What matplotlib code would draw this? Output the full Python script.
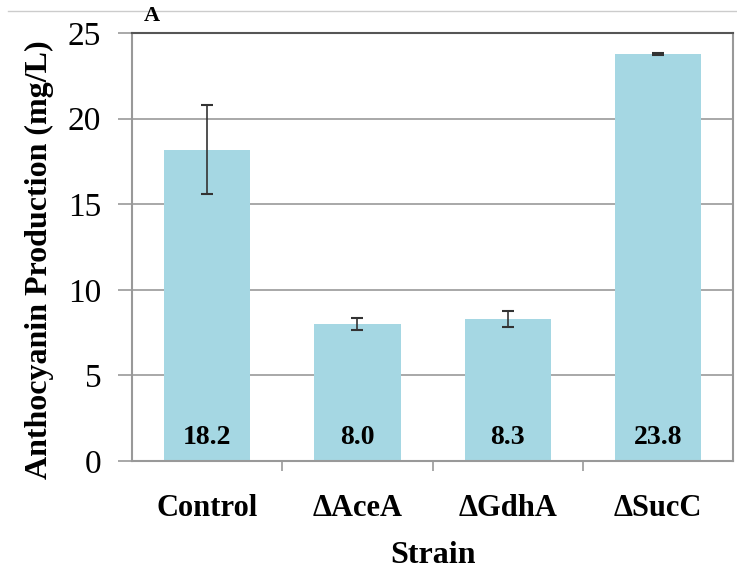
import matplotlib.pyplot as plt

strains = ["Control", "\u0394AceA", "\u0394GdhA", "\u0394SucC"]
production = [18.2, 8.0, 8.3, 23.8]
errors = [2.6, 0.35, 0.45, 0.05]
value_labels = ["18.2", "8.0", "8.3", "23.8"]

plt.rcParams['font.family'] = ['Liberation Serif', 'DejaVu Serif']

fig = plt.figure(figsize=(7.37, 5.82), dpi=100)
ax = fig.add_axes([0.179, 0.208, 0.816, 0.735])

x = range(len(strains))
ax.bar(x, production, width=0.575, color='#a5d7e3', zorder=2)
ax.errorbar(x, production, yerr=errors, fmt='none', ecolor='#333333',
            elinewidth=1.2, capsize=4, capthick=1.5, zorder=3)

for i, lab in enumerate(value_labels):
    ax.text(i, 1.35, lab, ha='center', va='center', fontsize=20, fontweight='bold', zorder=4)

ax.set_xlim(-0.5, len(strains) - 0.5)
ax.set_ylim(0, 25)
ax.set_yticks([0, 5, 10, 15, 20, 25])
ax.yaxis.grid(True, color='#999999', linewidth=1.2, zorder=0)
ax.set_axisbelow(True)

ax.set_xticks(x)
ax.set_xticklabels(strains, fontsize=22, fontweight='bold')
ax.tick_params(axis='x', length=0, pad=24)
ax.set_xticks([0.5, 1.5, 2.5], minor=True)
ax.tick_params(axis='x', which='minor', length=7, color='#999999', width=1.2)
ax.tick_params(axis='y', labelsize=24, length=10, color='#999999', width=1.2, pad=12)

for side in ['left', 'right', 'bottom']:
    ax.spines[side].set_color('#999999')
    ax.spines[side].set_linewidth(1.5)
ax.spines['top'].set_color('#555555')
ax.spines['top'].set_linewidth(1.5)

ax.set_xlabel("Strain", fontsize=23, fontweight='bold', labelpad=13)
ax.set_ylabel("Anthocyanin Production (mg/L)", fontsize=23, fontweight='bold')
ax.yaxis.set_label_coords(-0.13, 0.47)

fig.text(0.206, 0.972, "A", fontsize=16, fontweight='bold', ha='center', va='center')
fig.add_artist(plt.Line2D([0.011, 1.0], [0.981, 0.981], color='#cccccc', linewidth=1))

fig.savefig("out.png", dpi=100)
